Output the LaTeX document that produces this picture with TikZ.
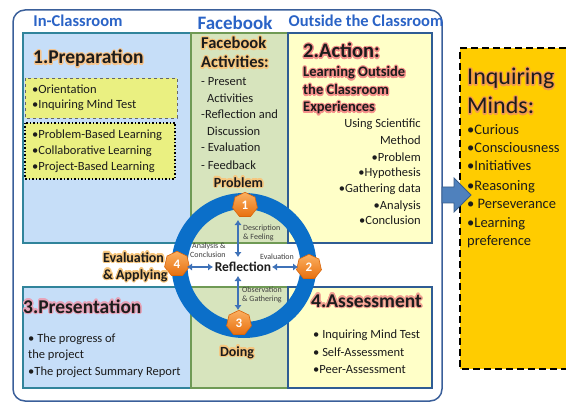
\documentclass[tikz,border=0pt]{standalone}
\usepackage{fontspec}
\setmainfont{Carlito}
\usepackage[copies]{contour}
\usetikzlibrary{shapes.geometric,arrows.meta}

\definecolor{frameblue}{HTML}{3A5F9A}
\definecolor{tabblue}{HTML}{2A63C6}
\definecolor{blueF}{HTML}{C6DEF8}
\definecolor{blueE}{HTML}{31849B}
\definecolor{greenF}{HTML}{D7E4BD}
\definecolor{greenE}{HTML}{6F9A55}
\definecolor{yellowF}{HTML}{FFFFC8}
\definecolor{yellowE}{HTML}{2F5C94}
\definecolor{boxY}{HTML}{EAF081}
\definecolor{ringblue}{HTML}{0B6FC9}
\definecolor{arrowblue}{HTML}{3F72B8}
\definecolor{blockF}{HTML}{4F81BD}
\definecolor{blockE}{HTML}{385D8A}
\definecolor{mindsF}{HTML}{FFCC00}
\definecolor{orL}{HTML}{FBB061}
\definecolor{orD}{HTML}{E8700F}
\definecolor{orE}{HTML}{D9650A}
\definecolor{ink}{HTML}{1C1C1C}
\definecolor{glowP}{HTML}{F6C48C}
\definecolor{glowA}{HTML}{F4908A}
\definecolor{glowR}{HTML}{E8A3B8}
\definecolor{glowS}{HTML}{F2A092}
\definecolor{glowO}{HTML}{F7C77F}
\definecolor{glowI}{HTML}{F29A50}

\newcommand{\fsz}[1]{\fontsize{#1}{#1}\selectfont}
\contourlength{1.2pt}

\tikzset{
  txt/.style={inner sep=0pt, anchor=base west, text=ink},
  lst/.style={txt, font=\fsz{12.5}},
  rlst/.style={lst, anchor=base east},
  head/.style={txt, font=\bfseries\fsz{19.5}},
  tab/.style={inner sep=0pt, anchor=base, font=\bfseries\fsz{16.5}, text=tabblue},
  phase/.style={inner sep=0pt, anchor=base, font=\bfseries\fsz{14}, text=ink},
  tiny/.style={inner sep=0pt, anchor=base west, font=\fsz{8}, text=ink!85},
  panelB/.style={fill=blueF, draw=blueE, line width=1.2pt},
  panelG/.style={fill=greenF, draw=greenE, line width=1.2pt},
  panelY/.style={fill=yellowF, draw=yellowE, line width=1.2pt},
  hept/.style={regular polygon, regular polygon sides=7, minimum size=25.5pt,
    inner sep=0pt, top color=orL, bottom color=orD, draw=orE, line width=0.6pt,
    text=white, font=\bfseries\fsz{13}},
  dblarrow/.style={{Latex[length=5pt,width=7.5pt]}-{Latex[length=5pt,width=7.5pt]},
    line width=2.2pt, draw=arrowblue}
}

\begin{document}
\begin{tikzpicture}[x=1pt,y=-1pt]
\useasboundingbox (0,0) rectangle (566,404);

% outer frame
\draw[frameblue, line width=1.5pt, rounded corners=12pt] (13,10) rectangle (442,401);

% column headers
\node[tab] (tin) at (78,27) {In-Classroom};
\node[tab, font=\bfseries\fsz{19}] (tfb) at (235,30) {Facebook};
\node[tab] (tout) at (366,27) {Outside the Classroom};

% upper and lower panels
\path[panelB] (23,33) rectangle (191,243);
\path[panelB] (23,287) rectangle (191,388);
\path[panelG] (191,33) rectangle (288,243);
\path[panelG] (191,287) rectangle (288,388);
\path[panelY] (288,33) rectangle (432,243);
\path[panelY] (288,287) rectangle (432,388);

% 1. Preparation
\node[head] (prep) at (33,64) {\contour{glowP}{1.Preparation}};
\path[fill=boxY, draw=black!60, dashed, line width=0.6pt] (25,78) rectangle (177,118);
\node[lst] (p1) at (32,94) {•Orientation};
\node[lst] (p2) at (32,109) {•Inquiring Mind Test};
\path[fill=boxY, draw=black, dotted, line width=1.5pt] (25,123) rectangle (175,179);
\node[lst] (p3) at (32,139) {•Problem-Based Learning};
\node[lst] (p4) at (32,155) {•Collaborative Learning};
\node[lst] (p5) at (32,171) {•Project-Based Learning};

% Facebook activities
\node[txt, font=\bfseries\fsz{16.5}] (fb1) at (201,49) {\contour{glowO}{Facebook}};
\node[txt, font=\bfseries\fsz{16.5}] (fb2) at (201,68) {\contour{glowO}{Activities:}};
\node[lst] (f1) at (201,86) {- Present};
\node[lst] (f2) at (207,103) {Activities};
\node[lst] (f3) at (201,119) {-Reflection and};
\node[lst] (f4) at (207,136) {Discussion};
\node[lst] (f5) at (201,152) {- Evaluation};
\node[lst] (f6) at (201,169) {- Feedback};

% 2. Action
\node[head, font=\bfseries\fsz{20.5}] (act) at (303,58) {\contour{glowA}{2.Action:}};
\node[txt, font=\bfseries\fsz{14.5}] (a1) at (303,77) {\contour{glowA}{Learning Outside}};
\node[txt, font=\bfseries\fsz{14.5}] (a2) at (303,95) {\contour{glowA}{the Classroom}};
\node[txt, font=\bfseries\fsz{14.5}] (a3) at (303,112) {\contour{glowA}{Experiences}};
\node[rlst] (m1) at (421,128) {Using Scientific};
\node[rlst] (m2) at (421,145) {Method};
\node[rlst] (m3) at (421,161) {•Problem};
\node[rlst] (m4) at (421,177) {•Hypothesis};
\node[rlst] (m5) at (421,193) {•Gathering data};
\node[rlst] (m6) at (421,210) {•Analysis};
\node[rlst] (m7) at (421,225) {•Conclusion};

% 3. Presentation
\node[head] (pres) at (23,313) {\contour{glowR}{3.Presentation}};
\node[lst] (r1) at (28,342) {• The progress of};
\node[lst] (r2) at (28,358) {the project};
\node[lst] (r3) at (28,375) {•The project Summary Report};

% 4. Assessment
\node[head] (ass) at (311,307) {\contour{glowS}{4.Assessment}};
\node[lst] (s1) at (313,338) {• Inquiring Mind Test};
\node[lst] (s2) at (313,356) {• Self-Assessment};
\node[lst] (s3) at (313,373) {•Peer-Assessment};

% reflection cycle
\draw[ringblue, line width=16pt] (244,265.5) circle[radius=64.5];
\node[hept] (h1) at (245,205) {1};
\node[hept] (h2) at (309,267) {2};
\node[hept] (h3) at (239,323) {3};
\node[hept] (h4) at (177,264) {4};

\node[phase] (lp) at (238.5,187) {\contour{glowO}{Problem}};
\node[phase] (ld) at (237,356) {\contour{glowO}{Doing}};
\node[txt, font=\bfseries\fsz{14}] (le1) at (103,262) {\contour{glowO}{Evaluation}};
\node[txt, font=\bfseries\fsz{14}] (le2) at (103,279) {\contour{glowO}{\&~Applying}};

\node[inner sep=0pt, anchor=base, font=\bfseries\fsz{13.5}, text=ink] (refl) at (243,271.5) {Reflection};

\coordinate (u1) at (238,220);
\coordinate (u2) at (238,257);
\coordinate (r1a) at (272,267);
\coordinate (r2a) at (298,267);
\coordinate (b1) at (238,276);
\coordinate (b2) at (238,310);
\coordinate (l1) at (187,267);
\coordinate (l2) at (213,267);
\draw[dblarrow] (u1) -- (u2);
\draw[dblarrow] (r1a) -- (r2a);
\draw[dblarrow] (b1) -- (b2);
\draw[dblarrow] (l1) -- (l2);

\node[tiny] (t1) at (243,230) {Description};
\node[tiny] (t2) at (243,240) {\& Feeling};
\node[tiny] (t3) at (260,259) {Evaluation};
\node[tiny] (t4) at (192,248) {Analysis \&};
\node[tiny] (t5) at (190,257) {Conclusion};
\node[tiny] (t6) at (242,292.5) {Observation};
\node[tiny] (t7) at (242,301) {\& Gathering};

% inquiring minds box
\fill[mindsF] (460,48) rectangle (566,369);
\draw[black, line width=2pt, dash pattern=on 7pt off 4pt] (566,48) -- (460,48) -- (460,369) -- (566,369);
\node[txt, font=\fsz{24}] (im1) at (467,85) {\contour{glowI}{Inquiring}};
\node[txt, font=\fsz{24}] (im2) at (467,114) {\contour{glowI}{Minds:}};
\node[txt, font=\fsz{14.5}] (i1) at (467,135) {•Curious};
\node[txt, font=\fsz{14.5}] (i2) at (467,153) {•Consciousness};
\node[txt, font=\fsz{14.5}] (i3) at (467,171) {•Initiatives};
\node[txt, font=\fsz{14.5}] (i4) at (467,190) {•Reasoning};
\node[txt, font=\fsz{14.5}] (i5) at (467,208) {• Perseverance};
\node[txt, font=\fsz{14.5}] (i6) at (467,227) {•Learning};
\node[txt, font=\fsz{14.5}] (i7) at (467,245) {preference};

% block arrow into the box
\path[fill=blockF, draw=blockE, line width=0.8pt]
  (442,187) -- (454,187) -- (454,178) -- (471,195) -- (454,212) -- (454,203) -- (442,203) -- cycle;
\end{tikzpicture}
\end{document}
